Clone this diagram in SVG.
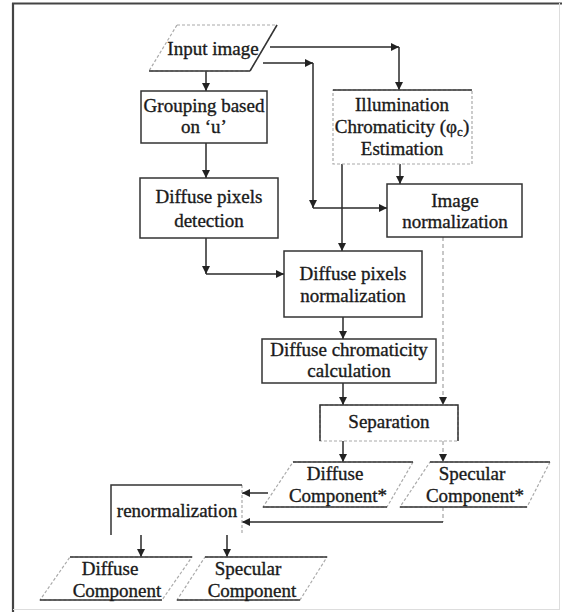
<svg xmlns="http://www.w3.org/2000/svg" width="562" height="612" viewBox="0 0 562 612">
<defs>
<marker id="ah" viewBox="0 0 10 10" refX="10" refY="5" markerWidth="8" markerHeight="8" markerUnits="userSpaceOnUse" orient="auto">
<path d="M0,0 L10,5 L0,10 z" fill="#222"/>
</marker>
<style>
text{font-family:"Liberation Serif","Times New Roman",serif;font-size:19px;fill:#1a1a1a;stroke:#1a1a1a;stroke-width:0.35;text-anchor:middle}
.box{fill:#fff;stroke:#333;stroke-width:1.5}
.faint{fill:none;stroke:#aaa;stroke-width:1.2;stroke-dasharray:3 2}
.solid{fill:none;stroke:#333;stroke-width:1.5}
.c{fill:none;stroke:#2a2a2a;stroke-width:1.5;marker-end:url(#ah)}
.cn{fill:none;stroke:#2a2a2a;stroke-width:1.5}
.cf{fill:none;stroke:#aaa;stroke-width:1.3;stroke-dasharray:4 3;marker-end:url(#ah)}
.cfn{fill:none;stroke:#aaa;stroke-width:1.3;stroke-dasharray:4 3}
</style>
</defs>
<rect width="562" height="612" fill="#fff"/>
<g id="frame">
<line x1="12" y1="3.5" x2="562" y2="3.5" stroke="#444" stroke-width="2.2"/>
<line x1="13" y1="3" x2="13" y2="612" stroke="#444" stroke-width="2.2"/>
<line x1="559.5" y1="3" x2="559.5" y2="609" stroke="#ddd" stroke-width="1"/>
<line x1="13" y1="609.5" x2="560" y2="609.5" stroke="#ddd" stroke-width="1"/>
</g>
<g id="connectors">
<path class="c" d="M206,71 V91"/>
<path class="c" d="M270,47 H399"/>
<path class="c" d="M399,47 V90"/>
<path class="c" d="M263,63 H313"/>
<path class="c" d="M313,63 V208"/>
<path class="c" d="M313,208 H387"/>
<path class="c" d="M400,164 V184"/>
<path class="c" d="M342,164 V251"/>
<path class="c" d="M206,143 V178"/>
<path class="c" d="M206,238 V274"/>
<path class="c" d="M206,274 H284"/>
<path class="c" d="M343,317 V339"/>
<path class="c" d="M343,383 V405"/>
<path class="cf" d="M443,237 V405"/>
<path class="c" d="M343,441 V462"/>
<path class="cf" d="M443,441 V462"/>
<path class="c" d="M268,493 H242"/>
<path class="cfn" d="M443,507 V522"/>
<path class="c" d="M443,522 H242"/>
<path class="c" d="M141,535 V557"/>
<path class="c" d="M227,535 V557"/>
</g>
<g id="input-image">
<polygon class="faint" points="177,25 277,25 250,71 149,71"/>
<line class="solid" x1="149" y1="71" x2="250" y2="71"/>
<line class="solid" x1="277" y1="25" x2="250" y2="71" stroke="#666"/>
<text x="213" y="55">Input image</text>
</g>
<g id="grouping">
<rect class="box" x="141" y="91" width="126" height="52"/>
<text x="204" y="112">Grouping based</text>
<text x="204" y="133">on ‘u’</text>
</g>
<g id="illumination">
<rect x="333" y="90" width="139" height="74" fill="#fff" class="faint"/>
<line class="solid" x1="333" y1="90" x2="472" y2="90"/>
<text x="402" y="111">Illumination</text>
<text x="402" y="133">Chromaticity (φ<tspan font-size="13" dy="3">c</tspan><tspan dy="-3">)</tspan></text>
<text x="402" y="155">Estimation</text>
</g>
<g id="image-normalization">
<rect class="box" x="387" y="184" width="135" height="53"/>
<text x="455" y="207">Image</text>
<text x="455" y="228">normalization</text>
</g>
<g id="detection">
<rect class="box" x="140" y="178" width="138" height="60"/>
<text x="209" y="203">Diffuse pixels</text>
<text x="209" y="227">detection</text>
</g>
<g id="dp-normalization">
<rect class="box" x="284" y="251" width="138" height="66"/>
<text x="353" y="280">Diffuse pixels</text>
<text x="353" y="302">normalization</text>
</g>
<g id="chromaticity">
<rect class="box" x="262" y="339" width="174" height="44"/>
<text x="349" y="356">Diffuse chromaticity</text>
<text x="349" y="377">calculation</text>
</g>
<g id="separation">
<rect x="320" y="405" width="138" height="36" fill="#fff" class="faint"/>
<path class="solid" d="M320,441 V405 H458 V441"/>
<text x="389" y="428">Separation</text>
</g>
<g id="diffuse-star">
<polygon class="faint" points="293,462 413,462 387,507 263,507"/>
<line class="solid" x1="293" y1="462" x2="413" y2="462"/>
<line class="solid" x1="263" y1="507" x2="387" y2="507" stroke="#666"/>
<text x="335" y="480">Diffuse</text>
<text x="338" y="502">Component*</text>
</g>
<g id="specular-star">
<polygon class="faint" points="430,462 550,462 527,507 400,507"/>
<line class="solid" x1="430" y1="462" x2="550" y2="462"/>
<line class="solid" x1="400" y1="507" x2="527" y2="507" stroke="#666"/>
<text x="472" y="480">Specular</text>
<text x="475" y="502">Component*</text>
</g>
<g id="renormalization">
<line class="faint" x1="242" y1="485" x2="242" y2="535"/>
<path class="solid" d="M111,535 V485 H242"/>
<text x="177" y="517">renormalization</text>
</g>
<g id="diffuse">
<polygon class="faint" points="70,557 192,557 162,600 40,600"/>
<line class="solid" x1="70" y1="557" x2="192" y2="557"/>
<line class="solid" x1="40" y1="600" x2="162" y2="600"/>
<text x="110" y="575">Diffuse</text>
<text x="117" y="597">Component</text>
</g>
<g id="specular">
<polygon class="faint" points="205,557 327,557 300,600 177,600"/>
<line class="solid" x1="205" y1="557" x2="327" y2="557"/>
<line class="solid" x1="177" y1="600" x2="300" y2="600"/>
<text x="248" y="575">Specular</text>
<text x="252" y="597">Component</text>
</g>
</svg>
